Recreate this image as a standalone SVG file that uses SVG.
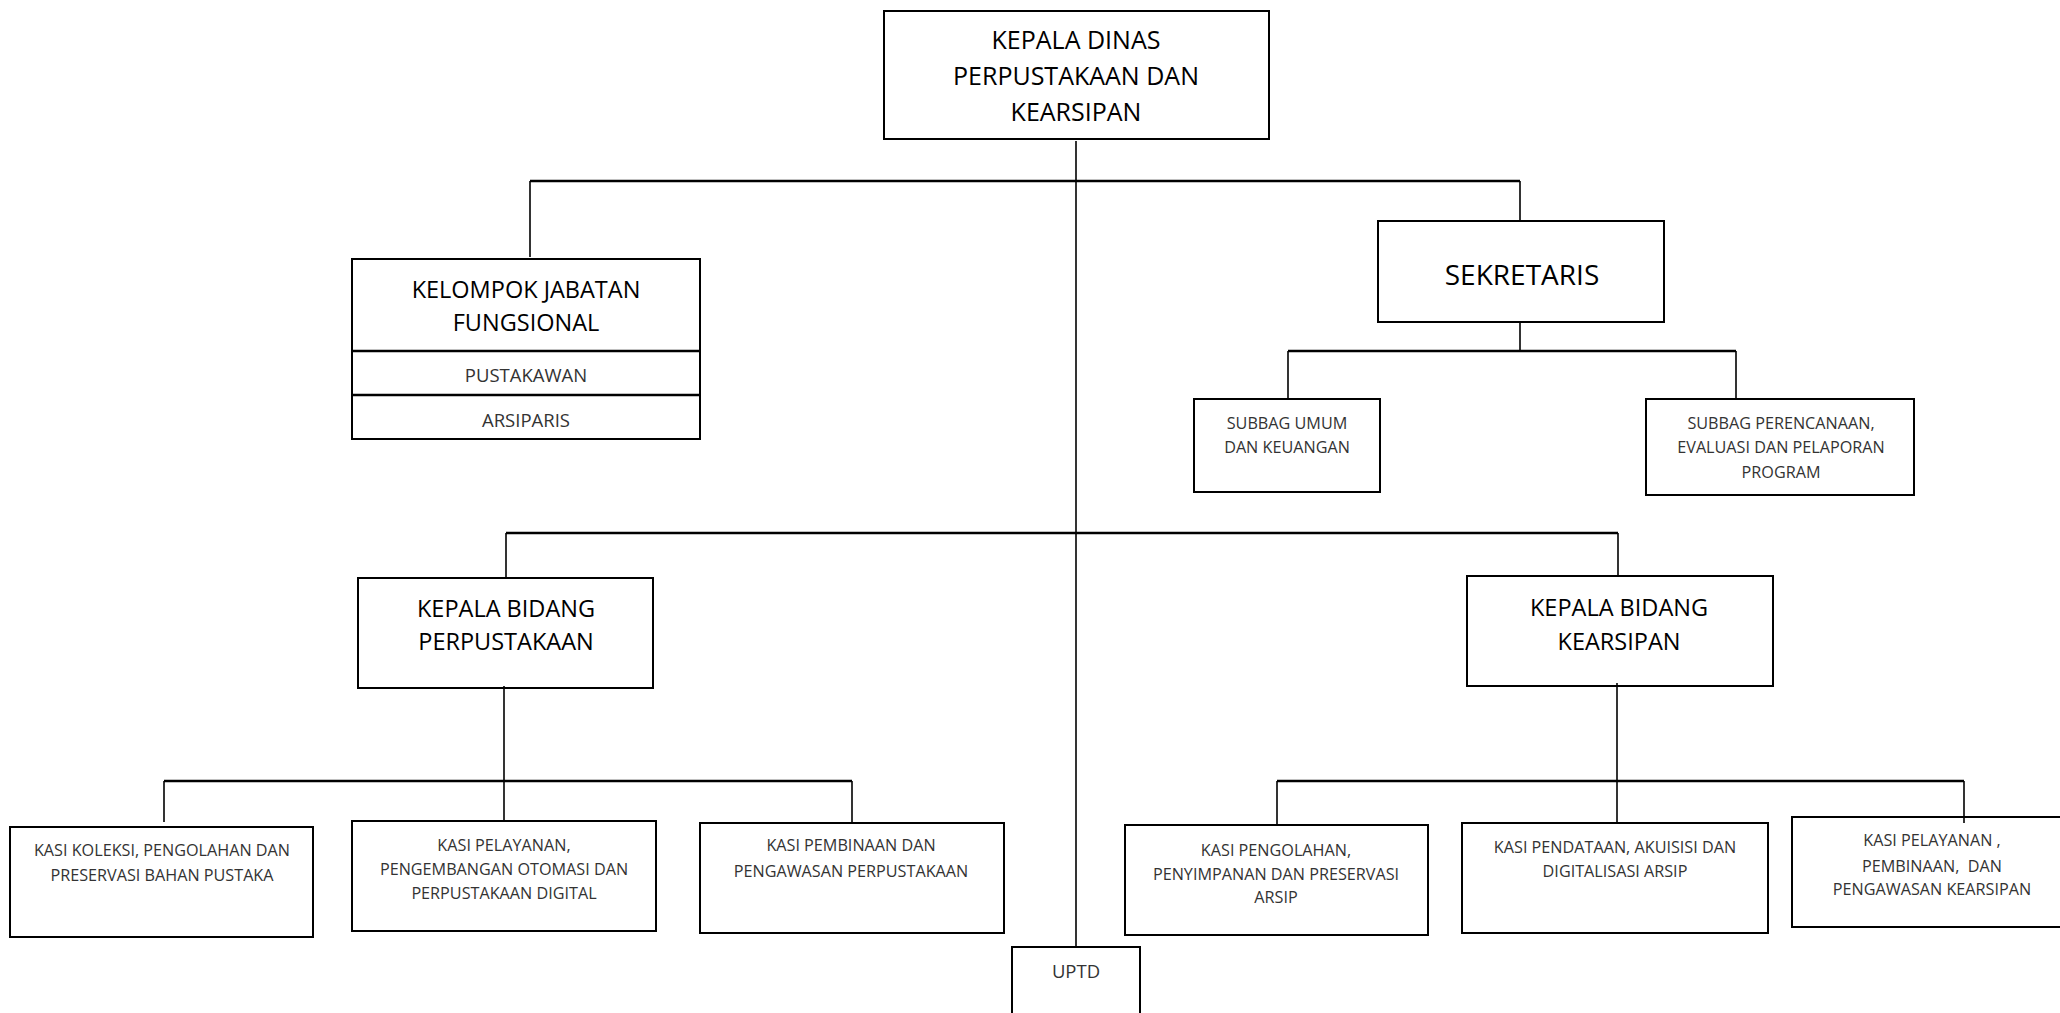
<svg xmlns="http://www.w3.org/2000/svg" width="2060" height="1013" viewBox="0 0 2060 1013">
<style>
.bg{fill:#fff}
.box{fill:#fff;stroke:#000;stroke-width:2}
.h{stroke:#000;stroke-width:2.5;fill:none}
.v{stroke:#000;stroke-width:1.6;fill:none}
text{font-family:"Open Sans","Noto Sans","DejaVu Sans",sans-serif;text-anchor:middle;white-space:pre}
.t1{font-size:23.5px;fill:#000}
.tk{font-size:25px;fill:#000}
.t0{font-size:28px;fill:#000}
.t2{font-size:16.2px;fill:#333}
.t3{font-size:18.5px;fill:#333}
</style>
<rect class="bg" x="0" y="0" width="2060" height="1013"/>

<g id="kepala-dinas">
<rect class="box" x="884" y="11" width="385" height="128"/>
<text class="tk" x="1076" y="49">KEPALA DINAS</text>
<text class="tk" x="1076" y="85">PERPUSTAKAAN DAN</text>
<text class="tk" x="1076" y="121">KEARSIPAN</text>
</g>

<g id="kelompok-jabatan-fungsional">
<rect class="box" x="352" y="259" width="348" height="180"/>
<line x1="352" y1="351" x2="700" y2="351" stroke="#000" stroke-width="2.5"/>
<line x1="352" y1="395" x2="700" y2="395" stroke="#000" stroke-width="2.5"/>
<text class="t1" x="526" y="298">KELOMPOK JABATAN</text>
<text class="t1" x="526" y="331">FUNGSIONAL</text>
<text class="t3" x="526" y="382">PUSTAKAWAN</text>
<text class="t3" x="526" y="427">ARSIPARIS</text>
</g>

<g id="sekretaris">
<rect class="box" x="1378" y="221" width="286" height="101"/>
<text class="t0" x="1522" y="285">SEKRETARIS</text>
</g>

<g id="subbag-umum">
<rect class="box" x="1194" y="399" width="186" height="93"/>
<text class="t2" x="1287" y="429">SUBBAG UMUM</text>
<text class="t2" x="1287" y="453">DAN KEUANGAN</text>
</g>

<g id="subbag-perencanaan">
<rect class="box" x="1646" y="399" width="268" height="96"/>
<text class="t2" x="1781" y="429">SUBBAG PERENCANAAN,</text>
<text class="t2" x="1781" y="453">EVALUASI DAN PELAPORAN</text>
<text class="t2" x="1781" y="478">PROGRAM</text>
</g>

<g id="kabid-perpustakaan">
<rect class="box" x="358" y="578" width="295" height="110"/>
<text class="t1" x="506" y="617">KEPALA BIDANG</text>
<text class="t1" x="506" y="650">PERPUSTAKAAN</text>
</g>

<g id="kabid-kearsipan">
<rect class="box" x="1467" y="576" width="306" height="110"/>
<text class="t1" x="1619" y="616">KEPALA BIDANG</text>
<text class="t1" x="1619" y="650">KEARSIPAN</text>
</g>

<g id="kasi-koleksi">
<rect class="box" x="10" y="827" width="303" height="110"/>
<text class="t2" x="162" y="856">KASI KOLEKSI, PENGOLAHAN DAN</text>
<text class="t2" x="162" y="881">PRESERVASI BAHAN PUSTAKA</text>
</g>

<g id="kasi-pelayanan-perpustakaan">
<rect class="box" x="352" y="821" width="304" height="110"/>
<text class="t2" x="504" y="851">KASI PELAYANAN,</text>
<text class="t2" x="504" y="875">PENGEMBANGAN OTOMASI DAN</text>
<text class="t2" x="504" y="899">PERPUSTAKAAN DIGITAL</text>
</g>

<g id="kasi-pembinaan-perpustakaan">
<rect class="box" x="700" y="823" width="304" height="110"/>
<text class="t2" x="851" y="851">KASI PEMBINAAN DAN</text>
<text class="t2" x="851" y="877">PENGAWASAN PERPUSTAKAAN</text>
</g>

<g id="kasi-pengolahan">
<rect class="box" x="1125" y="825" width="303" height="110"/>
<text class="t2" x="1276" y="856">KASI PENGOLAHAN,</text>
<text class="t2" x="1276" y="880">PENYIMPANAN DAN PRESERVASI</text>
<text class="t2" x="1276" y="903">ARSIP</text>
</g>

<g id="kasi-pendataan">
<rect class="box" x="1462" y="823" width="306" height="110"/>
<text class="t2" x="1615" y="853">KASI PENDATAAN, AKUISISI DAN</text>
<text class="t2" x="1615" y="877">DIGITALISASI ARSIP</text>
</g>

<g id="kasi-pelayanan-kearsipan">
<rect class="box" x="1792" y="817" width="280" height="110"/>
<text class="t2" x="1932" y="846">KASI PELAYANAN ,</text>
<text class="t2" x="1932" y="872">PEMBINAAN,  DAN</text>
<text class="t2" x="1932" y="895">PENGAWASAN KEARSIPAN</text>
</g>

<g id="uptd">
<rect class="box" x="1012" y="947" width="128" height="80"/>
<text class="t3" x="1076" y="978">UPTD</text>
</g>

<g id="connectors">
<line class="v" x1="1076" y1="141" x2="1076" y2="947"/>
<line class="h" x1="530" y1="181" x2="1520" y2="181"/>
<line class="v" x1="530" y1="181" x2="530" y2="257"/>
<line class="v" x1="1520" y1="181" x2="1520" y2="221"/>
<line class="v" x1="1520" y1="322" x2="1520" y2="351"/>
<line class="h" x1="1288" y1="351" x2="1736" y2="351"/>
<line class="v" x1="1288" y1="351" x2="1288" y2="399"/>
<line class="v" x1="1736" y1="351" x2="1736" y2="399"/>
<line class="h" x1="506" y1="533" x2="1618" y2="533"/>
<line class="v" x1="506" y1="533" x2="506" y2="579"/>
<line class="v" x1="1618" y1="533" x2="1618" y2="576"/>
<line class="v" x1="504" y1="686" x2="504" y2="821"/>
<line class="h" x1="164" y1="781" x2="852" y2="781"/>
<line class="v" x1="164" y1="781" x2="164" y2="822"/>
<line class="v" x1="852" y1="781" x2="852" y2="822"/>
<line class="v" x1="1617" y1="683" x2="1617" y2="823"/>
<line class="h" x1="1277" y1="781" x2="1964" y2="781"/>
<line class="v" x1="1277" y1="781" x2="1277" y2="825"/>
<line class="v" x1="1964" y1="781" x2="1964" y2="823"/>
</g>
</svg>
